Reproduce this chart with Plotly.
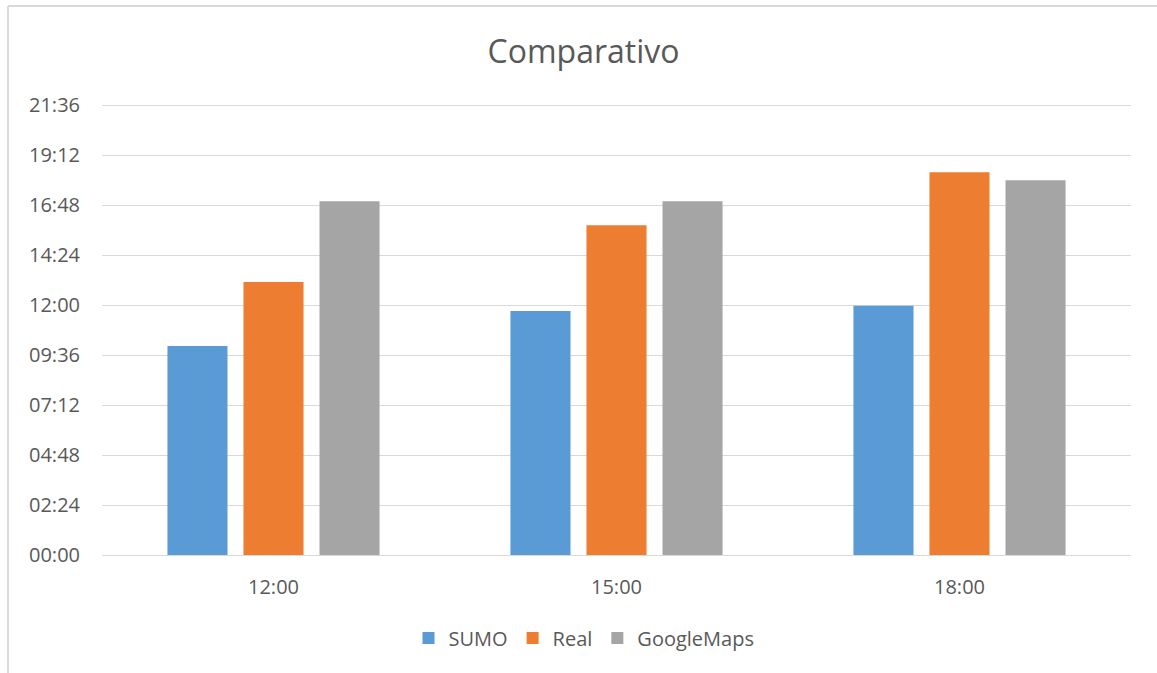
import plotly.graph_objects as go

categories = ["12:00", "15:00", "18:00"]
sumo = ["10:02", "11:43", "11:58"]
real = ["13:06", "15:50", "18:22"]
google = ["16:59", "16:59", "17:59"]
tick_labels = ["00:00", "02:24", "04:48", "07:12", "09:36", "12:00", "14:24", "16:48", "19:12", "21:36"]


def to_min(s):
    h, m = s.split(":")
    return int(h) * 60 + int(m)


series = [("SUMO", sumo, "#5B9BD5"), ("Real", real, "#ED7D31"), ("GoogleMaps", google, "#A5A5A5")]

fig = go.Figure()
for name, vals, col in series:
    fig.add_trace(go.Bar(
        x=categories, y=[to_min(v) for v in vals], name=name,
        marker=dict(color=col, line=dict(width=0)),
        hovertext=vals,
    ))

W, H = 1157, 673
L, R, T, B = 102, 26, 100, 118
pw, ph = W - L - R, H - T - B
ytop = 1296 * ph / 450  # 21:36 gridline sits at y=105 px


def px(x):
    return (x - L) / pw


def py(y):
    return 1 - (y - T) / ph


font = "Open Sans, Noto Sans, sans-serif"
fig.update_layout(
    width=W, height=H,
    margin=dict(l=L, r=R, t=T, b=B),
    paper_bgcolor="white", plot_bgcolor="white",
    barmode="group", bargap=0.335, bargroupgap=0.21,
    font=dict(family=font, color="#595959", size=20),
    title=dict(text="Comparativo", x=583.5 / W, xanchor="center", y=1 - 52 / H, yanchor="middle",
               font=dict(size=32, color="#595959", family=font)),
    xaxis=dict(showgrid=False, showline=False, ticks="", tickfont=dict(size=20, color="#595959"),
               ticklabelstandoff=18),
    yaxis=dict(range=[0, ytop], tickvals=[to_min(t) for t in tick_labels], ticktext=tick_labels,
               showgrid=True, gridcolor="#D9D9D9", gridwidth=1.3, zeroline=True, zerolinecolor="#D9D9D9",
               zerolinewidth=1.3, ticks="", tickfont=dict(size=20, color="#595959"), ticklabelstandoff=21),
    legend=dict(orientation="h", x=px(584), xanchor="center", y=py(638), yanchor="middle",
                font=dict(size=20, color="#595959"), itemwidth=30, traceorder="normal"),
    showlegend=True,
    shapes=[
        dict(type="line", xref="paper", yref="paper", x0=px(8), x1=px(W + 5), y0=py(6), y1=py(6),
             line=dict(color="#D9D9D9", width=2)),
        dict(type="line", xref="paper", yref="paper", x0=px(8), x1=px(8), y0=py(6), y1=py(H + 5),
             line=dict(color="#D9D9D9", width=2)),
    ],
)

fig.write_html("out.html")
